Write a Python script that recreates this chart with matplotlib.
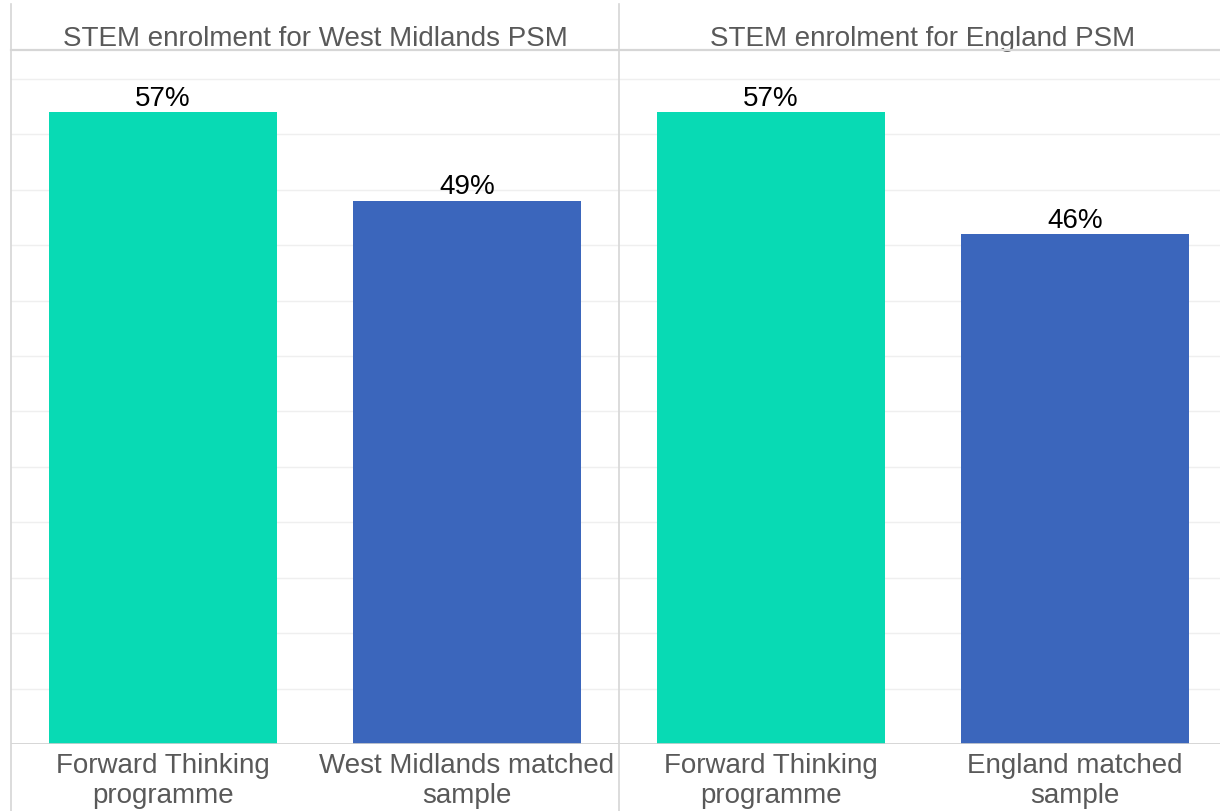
import matplotlib
matplotlib.use("Agg")
import matplotlib.pyplot as plt
from matplotlib.lines import Line2D

plt.rcParams['font.family'] = ['Liberation Sans', 'DejaVu Sans']

panel_titles = ["STEM enrolment for West Midlands PSM", "STEM enrolment for England PSM"]
categories = [["Forward Thinking\nprogramme", "West Midlands matched\nsample"],
              ["Forward Thinking\nprogramme", "England matched\nsample"]]
values = [[57, 49], [57, 46]]
bar_colors = ["#08DAB4", "#3B66BC"]
grid_ticks = list(range(5, 65, 5))

W, H = 1220, 812
fig = plt.figure(figsize=(W / 100, H / 100), dpi=100)
fig.patch.set_facecolor("white")

def fx(px):
    return px / W

def fy(py):
    return 1 - py / H

top_px, base_px = 51, 745
panel_left = [11, 619]
panel_w = 608
ymax = 62.6
fs = 20

for i in range(2):
    ax = fig.add_axes([fx(panel_left[i]), fy(base_px), fx(panel_w), (base_px - top_px) / H])
    ax.set_xlim(-0.5, 1.5)
    ax.set_ylim(0, ymax)
    for s in ax.spines.values():
        s.set_visible(False)
    ax.set_xticks([])
    ax.set_yticks([])
    for g in grid_ticks:
        ax.axhline(g, color="#efefef", lw=1.0, zorder=0)
    ax.axhline(0, color="#d0d0d0", lw=1.2, zorder=3)
    ax.bar(range(2), values[i], width=0.75, color=bar_colors, zorder=2)
    for j, v in enumerate(values[i]):
        ax.annotate(f"{v}%", (j, v), xytext=(0, 1), textcoords="offset points",
                    ha="center", va="bottom", fontsize=fs, color="black")
        ax.annotate(categories[i][j], (j, 0), xytext=(0, -6), textcoords="offset points",
                    ha="center", va="top", fontsize=fs, color="#595959",
                    linespacing=1.2, annotation_clip=False)
    ax.annotate(panel_titles[i], (0.5, 1), xycoords="axes fraction",
                xytext=(0, 8.5), textcoords="offset points",
                ha="center", va="center", fontsize=fs, color="#595959")

# header line
fig.add_artist(Line2D([fx(11), 1], [fy(51), fy(51)], color="#d6d6d6", lw=1.6))
# vertical separators
for xp in [11, 619]:
    fig.add_artist(Line2D([fx(xp), fx(xp)], [fy(5), 0], color="#d6d6d6", lw=1.2))

fig.savefig("out.png", dpi=100, facecolor="white")
